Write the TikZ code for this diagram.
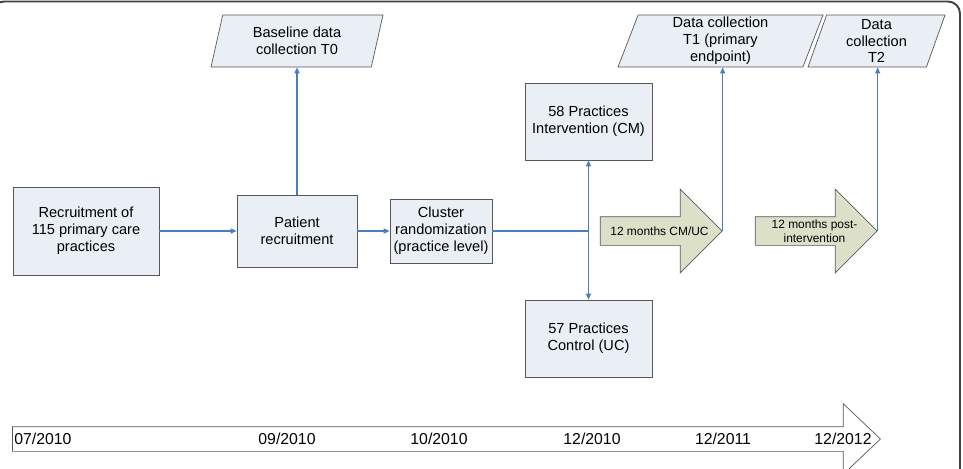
\documentclass[tikz,border=0pt]{standalone}
\usepackage{fontspec}
\setmainfont{Liberation Sans}
\usepackage{tikz}
\usetikzlibrary{arrows.meta,shapes.geometric,shapes.arrows}
\definecolor{boxfill}{RGB}{233,239,245}
\definecolor{boxline}{RGB}{88,88,88}
\definecolor{linkblue}{RGB}{74,126,187}
\definecolor{phasefill}{RGB}{221,224,200}
\begin{document}
\begin{tikzpicture}[x=0.02cm,y=-0.02cm,
  box/.style={draw=boxline,fill=boxfill,align=center,inner sep=0pt,font=\fontsize{8.3}{9.6}\selectfont},
  data/.style={box,trapezium,trapezium left angle=67,trapezium right angle=113,trapezium stretches body,minimum height=1.04cm},
  phase/.style={single arrow,draw=boxline,fill=phasefill,inner xsep=0pt,inner ysep=0.28cm,single arrow head extend=0.55cm,single arrow tip angle=90,minimum height=2.44cm,minimum width=1.66cm},
  phasetext/.style={align=center,inner sep=0pt,xshift=0.11cm,font=\fontsize{6.8}{8}\selectfont},
  date/.style={inner sep=0pt,font=\fontsize{9}{10}\selectfont},
  ar/.style={draw=linkblue,line width=0.6pt,-{Triangle[length=0.12cm,width=0.1cm]}},
  ln/.style={draw=linkblue,line width=0.6pt}]
  \useasboundingbox (0,0) rectangle (963,468);
  \draw[draw=black!75,line width=1.1pt,rounded corners=0.24cm] (-8,1.5) rectangle (960,490);
  \node[single arrow,draw=boxline,fill=white,inner xsep=0pt,inner ysep=0.24cm,single arrow head extend=0.46cm,single arrow tip angle=87,minimum height=17.36cm,minimum width=1.4cm] (tl) at (440,439) {};
  \node[date,anchor=west] (d0) at (14,439) {07/2010};
  \node[date] (d1) at (287,439) {09/2010};
  \node[date] (d2) at (439,439) {10/2010};
  \node[date] (d3) at (592,439) {12/2010};
  \node[date] (d4) at (723,439) {12/2011};
  \node[date] (d5) at (843,439) {12/2012};
  \node[box,minimum width=2.92cm,minimum height=1.76cm] (rec) at (86,231) {Recruitment of\\115 primary care\\practices};
  \node[box,minimum width=2.4cm,minimum height=1.44cm] (pat) at (297,231) {Patient\\recruitment};
  \node[box,minimum width=2.04cm,minimum height=1.28cm] (clu) at (441,231) {Cluster\\randomization\\(practice level)};
  \node[box,minimum width=2.54cm,minimum height=1.54cm] (cm) at (588.5,121.5) {58 Practices\\Intervention (CM)};
  \node[box,minimum width=2.54cm,minimum height=1.54cm] (uc) at (588.5,338.5) {57 Practices\\Control (UC)};
  \node[data,minimum width=3.44cm] (t0) at (297,41) {Baseline data\\collection T0};
  \node[data,minimum width=4.1cm] (t1) at (720.5,41) {Data collection\\T1 (primary\\endpoint)};
  \node[data,minimum width=2.74cm] (t2) at (876.5,41) {Data\\collection\\T2};
  \node[phase,label={[phasetext]center:12 months CM/UC}] (ph1) at (654,231) {};
  \node[phase,label={[phasetext]center:12 months post-\\intervention}] (ph2) at (809,231) {};
  \coordinate (split) at (588.5,231);
  \draw[ar] (rec) -- (pat);
  \draw[ar] (pat) -- (t0.south -| pat);
  \draw[ar] (pat) -- (clu);
  \draw[ln] (clu) -- (split);
  \draw[ar] (split) -- (cm);
  \draw[ar] (split) -- (uc);
  \draw[ar] (ph1.tip) -- (t1.south -| ph1.tip);
  \draw[ar] (ph2.tip) -- (t2.south -| ph2.tip);
\end{tikzpicture}
\end{document}
